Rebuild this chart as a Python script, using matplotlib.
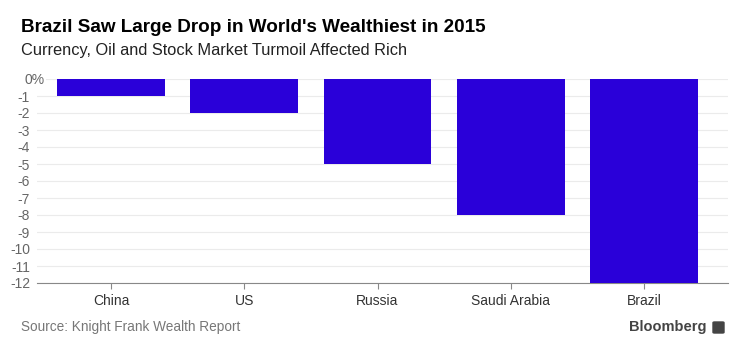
import matplotlib
matplotlib.use("Agg")
import matplotlib.pyplot as plt
from matplotlib.patches import FancyBboxPatch

categories = ["China", "US", "Russia", "Saudi Arabia", "Brazil"]
values = [-1, -2, -5, -8, -12]
yticks = list(range(0, -13, -1))
ytick_labels = [""] + [str(v) for v in yticks[1:]]

plt.rcParams['font.family'] = ['Liberation Sans', 'DejaVu Sans']

fig = plt.figure(figsize=(7.49, 3.52), dpi=100)
W, H = 749, 352
ax = fig.add_axes([37 / W, 1 - 283 / H, (728 - 37) / W, (283 - 79) / H])

x = list(range(len(categories)))
ax.bar(x, values, width=0.81, color="#2a00d9", zorder=3)
ax.set_xlim(-0.555, 4.63)
ax.set_ylim(-12, 0)
ax.set_yticks(yticks)
ax.set_yticklabels(ytick_labels, fontsize=10, color="#666666")
ax.set_xticks(x)
ax.set_xticklabels(categories, fontsize=10, color="#333333")
ax.grid(axis="y", color="#ebebeb", linewidth=0.8, zorder=0)
for s in ["top", "right", "left"]:
    ax.spines[s].set_visible(False)
ax.spines["bottom"].set_color("#888888")
ax.tick_params(axis="y", length=0, pad=5)
ax.tick_params(axis="x", length=4, color="#888888", pad=4)

# zero label with hanging percent sign
fig.text(24.5 / W, 1 - 79.8 / H, "0%", fontsize=10, color="#666666", va="center", ha="left",
         zorder=10, bbox=dict(facecolor="white", edgecolor="none", pad=0.8))

fig.text(21 / W, 1 - 27 / H, "Brazil Saw Large Drop in World's Wealthiest in 2015",
         fontsize=13.6, fontweight="bold", color="#000000", va="center", ha="left")
fig.text(21 / W, 1 - 50 / H, "Currency, Oil and Stock Market Turmoil Affected Rich",
         fontsize=11.8, color="#222222", va="center", ha="left")
fig.text(21 / W, 1 - 327 / H, "Source: Knight Frank Wealth Report",
         fontsize=9.8, color="#777777", va="center", ha="left")
fig.text(707 / W, 1 - 327 / H, "Bloomberg",
         fontsize=10.5, fontweight="bold", color="#444444", va="center", ha="right")
fig.patches.append(FancyBboxPatch((713 / W, 1 - 333 / H), 11 / W, 11 / H,
                                  boxstyle="round,pad=0,rounding_size=0.002",
                                  transform=fig.transFigure, color="#444444"))

fig.savefig("out.png", dpi=100)
